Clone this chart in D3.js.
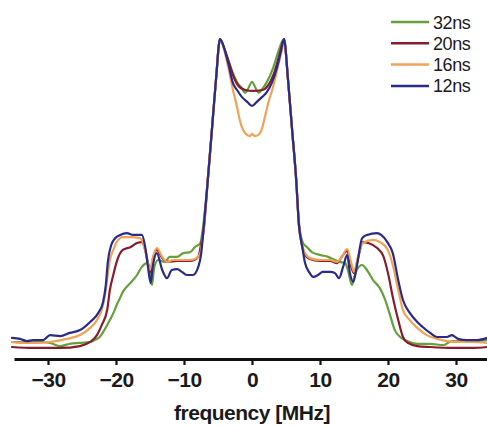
<!DOCTYPE html>
<html>
<head>
<meta charset="utf-8">
<script src="https://cdn.jsdelivr.net/npm/d3@7"></script>
<style>
  html, body { margin: 0; padding: 0; background: #ffffff; }
  svg { display: block; }
</style>
</head>
<body>
<svg id="chart" width="487" height="426"></svg>
<script>
// Echo spectra at four pulse separations: [frequency (MHz), normalised intensity (%)]
const series32ns = [
  [-35.3,3.2],[-33.4,3.2],[-31.2,3.2],[-29.7,2.9],[-28.2,1.9],[-26.8,2.6],[-25.3,2.9],[-23.8,3.2],
  [-22.8,4.2],[-22.4,4.8],[-21.8,6.7],[-20.9,10.2],[-20.3,12.8],[-19.9,15.0],[-19.4,17.3],[-19.0,19.2],
  [-17.9,22.0],[-16.9,24.6],[-16.2,27.2],[-15.4,28.4],[-15.1,26.8],[-14.7,21.4],[-14.4,26.8],[-13.8,29.4],
  [-12.8,28.8],[-12.1,30.4],[-11.0,30.4],[-10.1,31.6],[-9.1,31.9],[-8.4,33.5],[-7.6,34.8],[-7.2,39.9],
  [-6.5,55.0],[-5.9,70.9],[-5.3,86.9],[-4.7,100],[-4.1,97.1],[-3.5,93.3],[-2.8,89.1],[-2.1,85.9],
  [-1.5,84.3],[-1.0,82.8],[-0.6,84.0],[0,86.3],[0.6,84.0],[1.0,82.8],[1.5,84.0],[2.2,86.3],
  [3.1,90.7],[3.8,95.5],[4.7,100],[5.3,86.9],[5.9,70.9],[6.5,55.0],[6.9,41.5],[7.5,34.8],
  [8.1,33.5],[8.8,31.9],[10.0,31.0],[11.2,30.4],[12.2,29.4],[12.9,28.8],[13.7,28.4],[14.1,26.2],
  [14.7,21.4],[15.0,23.6],[15.4,26.2],[16.2,27.8],[16.9,26.2],[17.8,23.0],[18.8,20.4],[19.6,16.6],
  [20.3,11.8],[21.0,7.0],[21.8,4.8],[22.8,3.5],[24.3,2.6],[26.2,2.6],[28.1,2.2],[29.4,3.5],
  [30.6,3.5],[32.5,3.5],[34.6,3.8]
];

const series20ns = [
  [-35.3,1.6],[-32.2,1.3],[-28.2,1.3],[-25.3,1.9],[-23.8,3.2],[-22.8,5.4],[-22.1,8.6],[-21.3,13.4],
  [-20.9,19.8],[-20.4,24.6],[-19.9,28.8],[-19.0,32.6],[-17.9,33.5],[-16.9,34.8],[-16.2,35.1],[-15.7,32.6],
  [-15.3,28.4],[-14.9,25.6],[-14.6,29.4],[-14.0,32.6],[-13.2,30.0],[-12.5,28.8],[-11.0,29.1],[-9.1,29.1],
  [-7.9,30.4],[-7.5,34.2],[-7.1,39.0],[-6.5,55.0],[-5.9,70.9],[-5.3,86.9],[-4.7,100],[-4.1,97.1],
  [-3.5,93.3],[-2.8,88.5],[-2.1,85.3],[-1.0,83.7],[0.1,83.4],[1.5,83.7],[2.4,85.3],[3.4,90.1],
  [4.1,95.5],[4.7,100],[5.3,86.9],[5.9,70.9],[6.5,55.0],[6.9,40.6],[7.2,35.8],[7.8,31.0],
  [8.5,29.7],[10.0,29.1],[11.5,29.1],[12.5,28.4],[13.2,30.4],[14.0,32.3],[14.6,27.2],[15.0,25.2],
  [15.6,30.0],[16.3,35.1],[17.1,34.8],[18.4,33.2],[19.3,30.7],[20.0,25.2],[20.7,17.6],[21.5,10.2],
  [22.2,4.8],[22.9,2.9],[24.3,1.9],[26.2,1.6],[29.6,1.3],[32.5,1.3],[34.6,1.6]
];

const series16ns = [
  [-35.3,3.2],[-34.1,2.9],[-31.6,2.9],[-29.7,3.2],[-27.2,4.2],[-25.3,5.4],[-23.8,7.7],[-22.8,10.2],
  [-22.1,13.4],[-21.5,19.8],[-20.9,29.4],[-20.4,32.6],[-19.9,35.1],[-19.0,36.7],[-17.9,36.7],[-16.5,36.4],
  [-16.0,34.8],[-15.4,29.4],[-15.0,26.2],[-14.6,30.0],[-14.0,33.2],[-13.2,30.4],[-12.5,28.8],[-11.6,29.4],
  [-10.6,29.4],[-9.1,29.4],[-8.1,30.0],[-7.6,31.6],[-7.2,37.4],[-6.5,55.0],[-5.9,70.9],[-5.3,86.9],
  [-4.7,100],[-4.1,96.5],[-3.5,91.1],[-2.8,83.7],[-2.2,78.3],[-1.8,74.1],[-1.3,70.9],[-0.7,69.3],
  [-0.3,69.0],[0,69.7],[0.4,69.0],[0.9,69.3],[1.5,71.6],[1.9,75.1],[2.4,79.6],[3.1,84.7],
  [3.8,91.1],[4.4,96.5],[4.7,100],[5.3,86.9],[5.9,70.9],[6.5,55.0],[6.9,40.6],[7.2,35.8],
  [7.8,31.6],[8.5,30.0],[10.0,29.4],[11.5,29.4],[12.5,28.8],[13.2,30.4],[14.0,32.9],[14.6,28.4],
  [15.0,25.6],[15.6,30.4],[16.3,34.8],[17.8,35.8],[18.8,35.1],[19.9,32.9],[20.7,27.8],[21.5,19.8],
  [22.2,13.4],[23.2,10.2],[24.3,7.7],[25.7,5.4],[27.2,4.2],[28.7,3.5],[30.6,3.2],[32.5,3.2],[34.6,2.9]
];

const series12ns = [
  [-35.3,4.5],[-34.1,4.2],[-33.1,3.5],[-32.2,3.8],[-30.7,3.8],[-29.7,5.4],[-28.2,5.1],[-26.8,6.1],
  [-25.3,7.0],[-23.8,9.6],[-22.6,12.5],[-21.9,16.0],[-21.5,21.4],[-21.2,28.8],[-20.7,34.2],[-20.1,36.4],
  [-19.4,37.4],[-18.4,38.0],[-17.5,37.4],[-16.2,37.4],[-15.7,33.5],[-15.3,27.2],[-14.9,22.0],[-14.6,27.2],
  [-14.0,31.6],[-13.2,26.2],[-12.5,23.6],[-11.8,26.2],[-11.0,26.5],[-10.3,25.6],[-9.6,24.6],[-8.7,24.6],
  [-7.9,27.2],[-7.5,31.0],[-7.2,37.4],[-6.5,55.0],[-5.9,70.9],[-5.3,86.9],[-4.7,100],[-4.1,97.1],
  [-3.5,92.3],[-2.8,85.9],[-2.2,83.7],[-1.5,81.5],[-0.7,79.9],[0,78.6],[0.7,79.9],[1.5,81.5],
  [2.2,83.1],[2.9,85.9],[3.7,91.1],[4.3,96.5],[4.7,100],[5.3,86.9],[5.9,70.9],[6.5,55.0],
  [6.9,40.6],[7.4,33.5],[7.8,28.4],[8.5,25.2],[9.0,24.0],[9.7,24.6],[10.4,25.6],[11.5,25.6],
  [12.2,25.2],[12.8,23.6],[13.4,27.2],[14.0,31.0],[14.4,25.2],[14.9,22.4],[15.4,27.2],[16.2,36.4],
  [16.9,37.4],[18.4,38.0],[19.0,37.4],[19.9,35.1],[20.7,31.6],[21.5,23.0],[22.2,16.6],[23.2,12.5],
  [24.3,9.6],[25.1,8.0],[26.2,6.1],[27.2,4.8],[28.7,4.8],[29.4,5.4],[30.3,4.2],[31.6,3.8],
  [33.1,3.8],[34.6,4.5]
];

const seriesNames = ["32ns", "20ns", "16ns", "12ns"];
const seriesValues = [series32ns, series20ns, series16ns, series12ns];
const seriesColors = ["#64a03c", "#861c2c", "#f2a257", "#2a2a88"];
const xTicks = [-30, -20, -10, 0, 10, 20, 30];
const xTitle = "frequency [MHz]";

const svg = d3.select("#chart");

const x = d3.scaleLinear().domain([-35, 35]).range([14, 490]);
const y = d3.scaleLinear().domain([0, 100]).range([352, 39]);

const line = d3.line()
  .x(d => x(d[0]))
  .y(d => y(d[1]))
  .curve(d3.curveMonotoneX);

// spectra (12ns drawn last, on top)
svg.append("g")
  .selectAll("path")
  .data(seriesValues)
  .join("path")
  .attr("d", line)
  .attr("fill", "none")
  .attr("stroke", (d, i) => seriesColors[i])
  .attr("stroke-width", 2.2)
  .attr("stroke-linejoin", "round")
  .attr("stroke-linecap", "round");

// frequency axis
const axis = svg.append("g")
  .attr("transform", "translate(0,359)")
  .call(d3.axisBottom(x).tickValues(xTicks).tickSize(6).tickSizeOuter(0).tickPadding(6)
    .tickFormat(d3.format("d")));

axis.select(".domain").attr("stroke", "#111").attr("stroke-width", 3);
axis.selectAll(".tick line").attr("stroke", "#111").attr("stroke-width", 2.2);
axis.selectAll(".tick text")
  .attr("fill", "#1a1a1a")
  .attr("font-family", "'Liberation Sans', Arial, sans-serif")
  .attr("font-weight", "bold")
  .attr("font-size", 21)
  .attr("letter-spacing", "-0.5")
  .attr("dy", null)
  .attr("y", 28);

svg.append("text")
  .attr("x", x(0))
  .attr("y", 420)
  .attr("text-anchor", "middle")
  .attr("fill", "#1a1a1a")
  .attr("font-family", "'Liberation Sans', Arial, sans-serif")
  .attr("font-weight", "bold")
  .attr("font-size", 21)
  .attr("letter-spacing", "-0.5")
  .text(xTitle);

// legend
const legend = svg.append("g").attr("transform", "translate(391,22)");
const rows = legend.selectAll("g")
  .data(seriesNames)
  .join("g")
  .attr("transform", (d, i) => `translate(0,${i * 21.3})`);

rows.append("line")
  .attr("x1", 0).attr("x2", 38)
  .attr("y1", 0).attr("y2", 0)
  .attr("stroke", (d, i) => seriesColors[i])
  .attr("stroke-width", 2.5);

rows.append("text")
  .attr("x", 42)
  .attr("y", 6.5)
  .attr("fill", "#1a1a1a")
  .attr("font-family", "'Liberation Sans', Arial, sans-serif")
  .attr("font-size", 18)
  .attr("letter-spacing", "-0.4")
  .text(d => d);
</script>
</body>
</html>
